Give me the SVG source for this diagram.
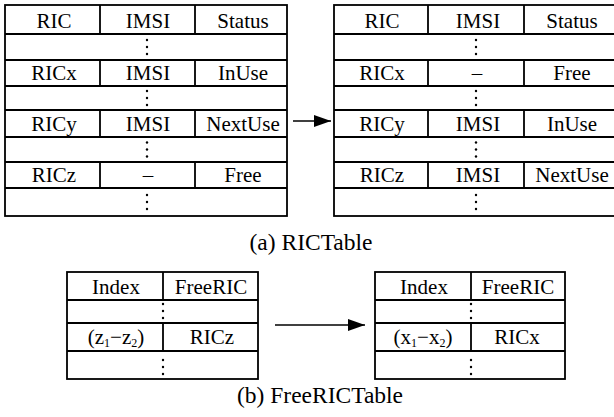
<svg xmlns="http://www.w3.org/2000/svg" width="614" height="417" viewBox="0 0 614 417" font-family="'Liberation Serif', 'Times New Roman', serif">
<style>
  text{font-family:'Liberation Serif','Times New Roman',serif}
  .t{font-size:21px;fill:#000;text-anchor:middle}
  .cap{font-size:23.5px;fill:#000;text-anchor:middle}
  .b{fill:none;stroke:#000;stroke-width:1.8}
  .l{stroke:#000;stroke-width:1.8}
  .c{stroke:#000;stroke-width:1.6;fill:none}
</style>
<defs>
  <g id="dots"><circle cx="0" cy="-7" r="1.2"/><circle cx="0" cy="0" r="1.2"/><circle cx="0" cy="7" r="1.2"/></g>
  <marker id="ah" markerUnits="userSpaceOnUse" markerWidth="18" markerHeight="12" refX="17" refY="6" orient="auto">
    <path d="M0,0 L17,6 L0,12 Z" fill="#000"/>
  </marker>
</defs>

<g id="ric-before">
  <rect class="b" x="5" y="5" width="282" height="211"/>
  <line class="l" x1="5" y1="34" x2="287" y2="34"/>
  <line class="l" x1="5" y1="60" x2="287" y2="60"/>
  <line class="l" x1="5" y1="86" x2="287" y2="86"/>
  <line class="l" x1="5" y1="110" x2="287" y2="110"/>
  <line class="l" x1="5" y1="137" x2="287" y2="137"/>
  <line class="l" x1="5" y1="162" x2="287" y2="162"/>
  <line class="l" x1="5" y1="188" x2="287" y2="188"/>
  <line class="l" x1="100" y1="5" x2="100" y2="34"/>
  <line class="l" x1="195" y1="5" x2="195" y2="34"/>
  <line class="l" x1="100" y1="60" x2="100" y2="86"/>
  <line class="l" x1="195" y1="60" x2="195" y2="86"/>
  <line class="l" x1="100" y1="110" x2="100" y2="137"/>
  <line class="l" x1="195" y1="110" x2="195" y2="137"/>
  <line class="l" x1="100" y1="162" x2="100" y2="188"/>
  <line class="l" x1="195" y1="162" x2="195" y2="188"/>
  <text class="t" x="54" y="28">RIC</text>
  <text class="t" x="148" y="28">IMSI</text>
  <text class="t" x="243" y="28">Status</text>
  <text class="t" x="54" y="80">RICx</text>
  <text class="t" x="148" y="80">IMSI</text>
  <text class="t" x="243" y="80">InUse</text>
  <text class="t" x="54" y="131">RICy</text>
  <text class="t" x="148" y="131">IMSI</text>
  <text class="t" x="243" y="131">NextUse</text>
  <text class="t" x="54" y="182">RICz</text>
  <text class="t" x="148" y="182">–</text>
  <text class="t" x="243" y="182">Free</text>
  <use href="#dots" x="147" y="47"/>
  <use href="#dots" x="147" y="98"/>
  <use href="#dots" x="147" y="149.5"/>
  <use href="#dots" x="147" y="202"/>
</g>

<g id="ric-after">
  <rect class="b" x="334" y="5" width="282" height="211"/>
  <line class="l" x1="334" y1="34" x2="616" y2="34"/>
  <line class="l" x1="334" y1="60" x2="616" y2="60"/>
  <line class="l" x1="334" y1="86" x2="616" y2="86"/>
  <line class="l" x1="334" y1="110" x2="616" y2="110"/>
  <line class="l" x1="334" y1="137" x2="616" y2="137"/>
  <line class="l" x1="334" y1="162" x2="616" y2="162"/>
  <line class="l" x1="334" y1="188" x2="616" y2="188"/>
  <line class="l" x1="428" y1="5" x2="428" y2="34"/>
  <line class="l" x1="524" y1="5" x2="524" y2="34"/>
  <line class="l" x1="428" y1="60" x2="428" y2="86"/>
  <line class="l" x1="524" y1="60" x2="524" y2="86"/>
  <line class="l" x1="428" y1="110" x2="428" y2="137"/>
  <line class="l" x1="524" y1="110" x2="524" y2="137"/>
  <line class="l" x1="428" y1="162" x2="428" y2="188"/>
  <line class="l" x1="524" y1="162" x2="524" y2="188"/>
  <text class="t" x="382" y="28">RIC</text>
  <text class="t" x="478" y="28">IMSI</text>
  <text class="t" x="572" y="28">Status</text>
  <text class="t" x="382" y="80">RICx</text>
  <text class="t" x="477" y="80">–</text>
  <text class="t" x="572" y="80">Free</text>
  <text class="t" x="382" y="131">RICy</text>
  <text class="t" x="478" y="131">IMSI</text>
  <text class="t" x="572" y="131">InUse</text>
  <text class="t" x="382" y="182">RICz</text>
  <text class="t" x="478" y="182">IMSI</text>
  <text class="t" x="572" y="182">NextUse</text>
  <use href="#dots" x="476" y="47"/>
  <use href="#dots" x="476" y="98"/>
  <use href="#dots" x="476" y="149.5"/>
  <use href="#dots" x="476" y="202"/>
</g>

<g id="caption-a">
  <text class="cap" x="311" y="250">(a) RICTable</text>
</g>

<g id="free-before">
  <rect class="b" x="67" y="272" width="191" height="107"/>
  <line class="l" x1="67" y1="300" x2="258" y2="300"/>
  <line class="l" x1="67" y1="323" x2="258" y2="323"/>
  <line class="l" x1="67" y1="351" x2="258" y2="351"/>
  <line class="l" x1="163" y1="272" x2="163" y2="300"/>
  <line class="l" x1="163" y1="323" x2="163" y2="351"/>
  <text class="t" x="116" y="294">Index</text>
  <text class="t" x="211" y="294">FreeRIC</text>
  <text class="t" x="116" y="344">(z<tspan font-size="12" dy="3">1</tspan><tspan dy="-3">−z</tspan><tspan font-size="12" dy="3">2</tspan><tspan dy="-3">)</tspan></text>
  <text class="t" x="212" y="344">RICz</text>
  <use href="#dots" x="163" y="311"/>
  <use href="#dots" x="163" y="367"/>
</g>

<g id="free-after">
  <rect class="b" x="375" y="272" width="190" height="107"/>
  <line class="l" x1="375" y1="300" x2="565" y2="300"/>
  <line class="l" x1="375" y1="323" x2="565" y2="323"/>
  <line class="l" x1="375" y1="351" x2="565" y2="351"/>
  <line class="l" x1="471" y1="272" x2="471" y2="300"/>
  <line class="l" x1="471" y1="323" x2="471" y2="351"/>
  <text class="t" x="424" y="294">Index</text>
  <text class="t" x="518" y="294">FreeRIC</text>
  <text class="t" x="423" y="344">(x<tspan font-size="12" dy="3">1</tspan><tspan dy="-3">−x</tspan><tspan font-size="12" dy="3">2</tspan><tspan dy="-3">)</tspan></text>
  <text class="t" x="517" y="344">RICx</text>
  <use href="#dots" x="471" y="311"/>
  <use href="#dots" x="471" y="367"/>
</g>

<g id="caption-b">
  <text class="cap" x="320" y="403">(b) FreeRICTable</text>
</g>

<g id="connectors">
  <line class="c" x1="293" y1="121" x2="331" y2="121" marker-end="url(#ah)"/>
  <line class="c" x1="275" y1="325" x2="365" y2="325" marker-end="url(#ah)"/>
</g>
</svg>
